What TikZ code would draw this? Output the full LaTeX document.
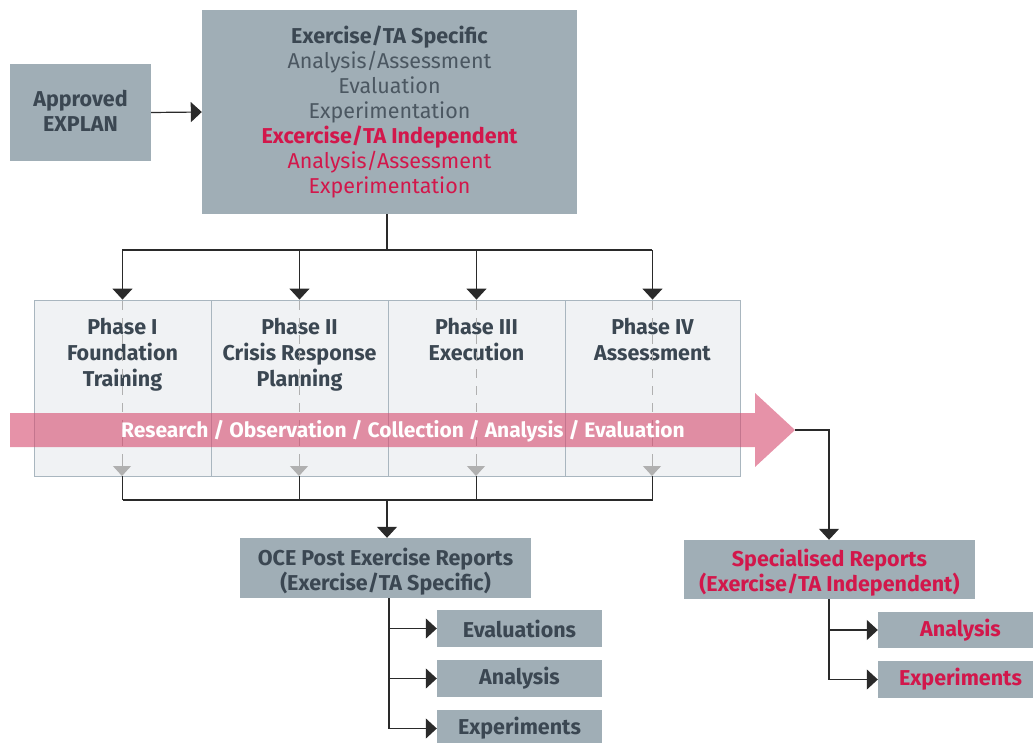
\documentclass[tikz,border=0pt]{standalone}
\usepackage{fontspec}
\setmainfont{Fira Sans}
\usetikzlibrary{arrows.meta}
\definecolor{boxfill}{HTML}{A0AEB6}
\definecolor{phasefill}{HTML}{F0F2F4}
\definecolor{phaseline}{HTML}{A9B6BF}
\definecolor{darktext}{HTML}{3B4752}
\definecolor{softtext}{HTML}{4B5761}
\definecolor{accent}{HTML}{D2174B}
\definecolor{band}{HTML}{D64A6E}
\definecolor{wire}{HTML}{2A2A2A}
\definecolor{ghost}{HTML}{B0B0B0}
\tikzset{
  x=1pt, y=-1pt,
  greybox/.style={rectangle, fill=boxfill, draw=none, inner sep=0pt, align=center,
    text=darktext, font=\bfseries\fontsize{21.5}{25}\selectfont},
  boxtext/.style={inner sep=0pt, align=center, text=darktext,
    font=\bfseries\fontsize{21.5}{25}\selectfont},
  phasebox/.style={rectangle, fill=phasefill, draw=phaseline, line width=0.8pt, inner sep=0pt},
  phaselabel/.style={anchor=north, align=center, text=darktext, inner sep=0pt,
    font=\bfseries\fontsize{21.5}{26}\selectfont},
  wireline/.style={draw=wire, line width=1.2pt},
  tipdown/.style={-{Triangle[width=20pt,length=11pt]}},
  ghosttip/.style={-{Triangle[width=18pt,length=10pt]}},
}
\begin{document}
\begin{tikzpicture}
\useasboundingbox (0,0) rectangle (1033,743);

% top boxes
\node[greybox, minimum width=141pt, minimum height=97pt] (explan) at (80.5,112.5) {};
\node[boxtext] (explantext) at (80.5,110.5) {Approved\\EXPLAN};
\node[greybox, minimum width=375pt, minimum height=204pt,
      font=\fontsize{21.5}{25}\selectfont] (scope) at (389.5,112)
  {\textbf{\color{darktext}Exercise/TA Specific}\\
   {\color{softtext}Analysis/Assessment}\\
   {\color{softtext}Evaluation}\\
   {\color{softtext}Experimentation}\\
   \textbf{\color{accent}Excercise/TA Independent}\\
   {\color{accent}Analysis/Assessment}\\
   {\color{accent}Experimentation}};

\draw[wireline, tipdown] (explan.east) -- (scope.west);

% phase boxes
\node[phasebox, minimum width=177pt, minimum height=176pt] (p1) at (122.5,388) {};
\node[phasebox, minimum width=177pt, minimum height=176pt] (p2) at (299.5,388) {};
\node[phasebox, minimum width=177pt, minimum height=176pt] (p3) at (476.5,388) {};
\node[phasebox, minimum width=175pt, minimum height=176pt] (p4) at (652.5,388) {};

\node[phaselabel] (l1) at (122.5,318) {Phase I\\Foundation\\Training};
\node[phaselabel] (l2) at (299.5,318) {Phase II\\Crisis Response\\Planning};
\node[phaselabel] (l3) at (476.5,318) {Phase III\\Execution};
\node[phaselabel] (l4) at (652.5,318) {Phase IV\\Assessment};

% dashed guides through each phase
\foreach \p/\x in {p1/122, p2/299, p3/476, p4/652}{
  \draw[ghost, line width=1pt, dash pattern=on 9pt off 8pt] (\x,301) -- (\x,466);
  \draw[ghost, line width=1pt, ghosttip] (\x,462) -- (\x,476);
}

% distribution from the scope box to the phases
\coordinate (split) at (387,250);
\draw[wireline] (scope.south -| split) -- (split);
\draw[wireline] (122,250) -- (652,250);
\foreach \p/\x in {p1/122.5, p2/299.5, p3/476.5, p4/652.5}{
  \draw[wireline, tipdown] (\x,250) -- (\p.north -| \x,0);
}

% research band arrow
\fill[band, opacity=0.6] (10,413) -- (755,413) -- (755,393) -- (795,430) -- (755,467) -- (755,447) -- (10,447) -- cycle;
\coordinate (bandtip) at (795,430);
\node[text=white, font=\bfseries\fontsize{21}{22}\selectfont, inner sep=0pt] (bandtext) at (403,431)
  {Research / Observation / Collection / Analysis / Evaluation};

% collection from the phases to the post exercise reports
\foreach \p/\x in {p1/122.5, p2/299.5, p3/476.5, p4/652.5}{
  \draw[wireline] (\p.south -| \x,0) -- (\x,500);
}
\draw[wireline] (122.5,500) -- (652.5,500);

\node[greybox, minimum width=291pt, minimum height=60pt] (oce) at (385.5,568) {};
\node[boxtext] (ocetext) at (385.5,572) {OCE Post Exercise Reports\\(Exercise/TA Specific)};
\node[greybox, minimum width=291pt, minimum height=59pt] (spec) at (829.5,569.5) {};
\node[boxtext, text=accent] (spectext) at (829.5,573) {Specialised Reports\\(Exercise/TA Independent)};

\draw[wireline, tipdown] (387,500) -- (oce.north -| 387,0);
\draw[wireline, tipdown] (bandtip) -| (spec.north -| 829,0);

% report outputs
\node[greybox, minimum width=165pt, minimum height=37pt] (eval) at (519.5,628.5) {Evaluations};
\node[greybox, minimum width=165pt, minimum height=37pt] (anl) at (519.5,678.5) {Analysis};
\node[greybox, minimum width=165pt, minimum height=37pt] (exp) at (519.5,728.5) {Experiments};

\node[greybox, minimum width=165pt, minimum height=36pt, text=accent] (sanl) at (960.5,630) {Analysis};
\node[greybox, minimum width=165pt, minimum height=37pt, text=accent] (sexp) at (960.5,679.5) {Experiments};

\draw[wireline] (oce.south -| 389,0) -- (389,728.5);
\foreach \b in {eval, anl, exp}{
  \draw[wireline, tipdown] (389,0 |- \b.west) -- (\b.west);
}
\draw[wireline] (spec.south -| 829,0) -- (829,679.5);
\foreach \b in {sanl, sexp}{
  \draw[wireline, tipdown] (829,0 |- \b.west) -- (\b.west);
}
\end{tikzpicture}
\end{document}
